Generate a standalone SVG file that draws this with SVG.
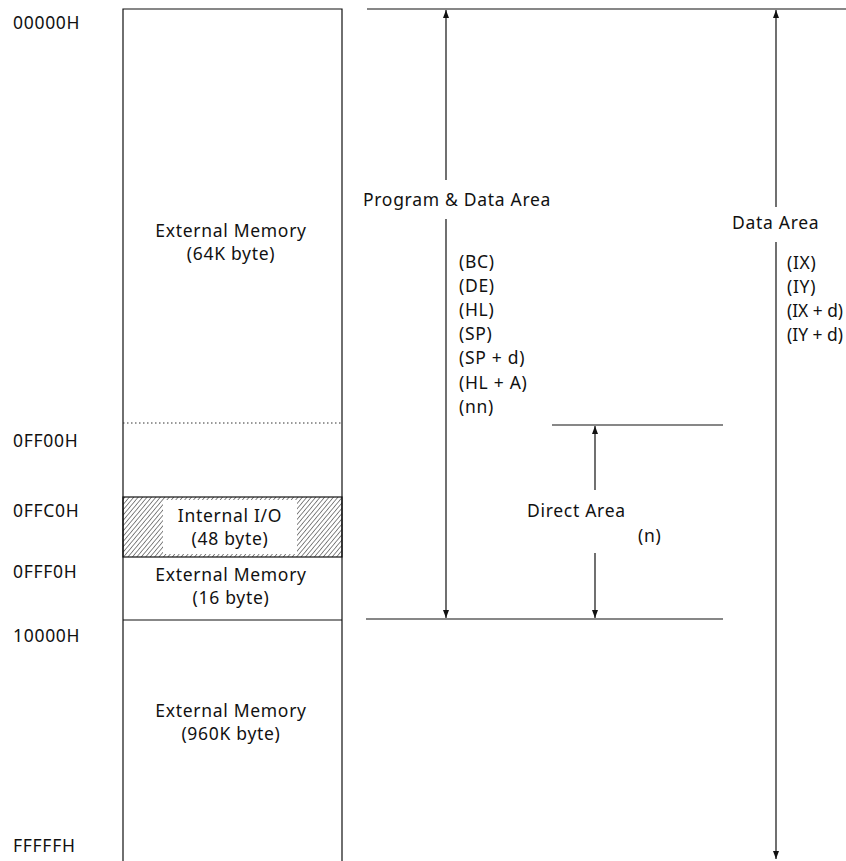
<svg xmlns="http://www.w3.org/2000/svg" width="846" height="861" viewBox="0 0 846 861">
<style>
text{font-family:"Noto Sans","Open Sans","DejaVu Sans",sans-serif;font-size:17.5px;fill:#111;letter-spacing:0.7px}
.c{text-anchor:middle}
.tight{letter-spacing:0}
.ln{stroke:#111;stroke-width:1.2;fill:none}
.dot{stroke:#333;stroke-width:1;stroke-dasharray:1.5 2.5;fill:none}
</style>
<defs>
<pattern id="hatch" width="3.4" height="3.4" patternUnits="userSpaceOnUse" patternTransform="rotate(40)">
<line x1="0" y1="0" x2="0" y2="3.4" stroke="#111" stroke-width="1"/>
</pattern>
<marker id="ah" viewBox="0 0 8 16" refX="8" refY="8" markerWidth="8" markerHeight="16" markerUnits="userSpaceOnUse" orient="auto">
<path d="M0,5 L8,8 L0,11 Z" fill="#111"/>
</marker>
</defs>

<g id="addresses">
<text x="13" y="29">00000H</text>
<text x="13" y="447">0FF00H</text>
<text x="13" y="517">0FFC0H</text>
<text x="13" y="578">0FFF0H</text>
<text x="13" y="642">10000H</text>
<text x="13" y="852">FFFFFH</text>
</g>

<g id="memory-map">
<path class="ln" d="M123,861 V9 H342 V861"/>
<line class="dot" x1="123" y1="423" x2="342" y2="423"/>
<line class="ln" x1="123" y1="620" x2="342" y2="620"/>
</g>

<g id="ext-64k">
<text class="c" x="231" y="237">External Memory</text>
<text class="c" x="231" y="260">(64K byte)</text>
</g>

<g id="internal-io">
<rect x="123" y="497" width="219" height="60" fill="url(#hatch)"/>
<rect x="163" y="500" width="134" height="54" fill="#fff"/>
<rect class="ln" x="123" y="497" width="219" height="60"/>
<text class="c" x="230" y="522">Internal  I/O</text>
<text class="c" x="230" y="545">(48 byte)</text>
</g>

<g id="ext-16">
<text class="c" x="231" y="581">External Memory</text>
<text class="c" x="231" y="604">(16 byte)</text>
</g>

<g id="ext-960k">
<text class="c" x="231" y="717">External Memory</text>
<text class="c" x="231" y="740">(960K byte)</text>
</g>

<g id="connectors">
<line class="ln" x1="367" y1="9" x2="846" y2="9"/>
<line class="ln" x1="366" y1="619" x2="723" y2="619"/>
<line class="ln" x1="552" y1="425" x2="723" y2="425"/>
<line class="ln" x1="446" y1="180" x2="446" y2="10" marker-end="url(#ah)"/>
<line class="ln" x1="446" y1="219" x2="446" y2="618" marker-end="url(#ah)"/>
<line class="ln" x1="776" y1="207" x2="776" y2="10" marker-end="url(#ah)"/>
<line class="ln" x1="776" y1="242" x2="776" y2="859" marker-end="url(#ah)"/>
<line class="ln" x1="595" y1="490" x2="595" y2="426" marker-end="url(#ah)"/>
<line class="ln" x1="595" y1="553" x2="595" y2="618" marker-end="url(#ah)"/>
</g>

<g id="program-data-area">
<text x="363" y="206">Program &amp; Data Area</text>
<text x="459" y="268">(BC)</text>
<text x="459" y="292">(DE)</text>
<text x="459" y="316">(HL)</text>
<text x="459" y="340">(SP)</text>
<text x="459" y="364">(SP + d)</text>
<text x="459" y="389">(HL + A)</text>
<text x="459" y="413">(nn)</text>
</g>

<g id="data-area">
<text x="732" y="229">Data Area</text>
<text x="787" y="269">(IX)</text>
<text x="787" y="293">(IY)</text>
<text class="tight" x="787" y="317" textLength="56" lengthAdjust="spacingAndGlyphs">(IX + d)</text>
<text class="tight" x="787" y="341" textLength="56" lengthAdjust="spacingAndGlyphs">(IY + d)</text>
</g>

<g id="direct-area">
<text x="527" y="517">Direct Area</text>
<text x="638" y="542">(n)</text>
</g>
</svg>
